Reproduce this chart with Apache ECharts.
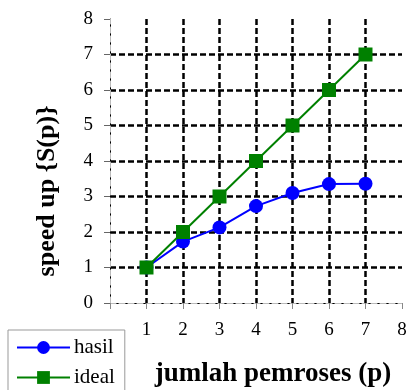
<!DOCTYPE html>
<html>
<head>
<meta charset="utf-8">
<script src="https://cdn.jsdelivr.net/npm/echarts@6/dist/echarts.min.js"></script>
<style>
  html, body { margin: 0; padding: 0; background: #fff; }
  #chart { width: 408px; height: 390px; }
</style>
</head>
<body>
<div id="chart"></div>
<script>
var procs = [1, 2, 3, 4, 5, 6, 7];
var hasil = [1, 1.73, 2.13, 2.73, 3.1, 3.35, 3.36];
var ideal = [1, 2, 3, 4, 5, 6, 7];

var font = 'Liberation Serif';

function pairs(ys) {
    var out = [];
    for (var i = 0; i < procs.length; i++) {
        out.push([procs[i], ys[i]]);
    }
    return out;
}

var gridDash = {
    show: true,
    showMinLine: false,
    showMaxLine: false,
    lineStyle: { color: '#000', width: 2.5, type: [6, 3] }
};

var option = {
    animation: false,
    backgroundColor: '#fff',
    grid: { left: 110, right: 6, top: 19, bottom: 87, outerBoundsMode: 'none', containLabel: false },
    legend: {
        orient: 'vertical',
        left: 8,
        top: 330,
        height: 120,
        padding: [7, 10, 20, 8],
        borderColor: '#999',
        borderWidth: 1,
        itemWidth: 53,
        itemHeight: 16,
        itemGap: 9,
        textStyle: { fontFamily: font, fontSize: 21, color: '#000', padding: [0, 0, 0, -1] },
        data: ['hasil', 'ideal']
    },
    xAxis: [{
        type: 'value',
        min: 0,
        max: 8,
        interval: 1,
        name: 'jumlah pemroses (p)',
        nameLocation: 'middle',
        nameGap: 58,
        nameTextStyle: { fontFamily: font, fontSize: 27, fontWeight: 'bold', color: '#000', padding: [0, 0, 0, 34] },
        axisLine: { lineStyle: { color: '#000', width: 1 } },
        axisTick: { show: true, length: 6, lineStyle: { color: '#888' } },
        axisLabel: {
            fontFamily: font, fontSize: 19, color: '#000', margin: 18,
            formatter: function (v) { return v === 0 ? '' : v; }
        },
        splitLine: gridDash
    }, {
        type: 'value',
        position: 'top',
        min: 0,
        max: 8,
        axisLine: { show: true, lineStyle: { color: '#bbb', width: 1, type: [6, 3] } },
        axisTick: { show: false },
        axisLabel: { show: false },
        splitLine: { show: false }
    }],
    yAxis: [{
        type: 'value',
        min: 0,
        max: 8,
        interval: 1,
        name: 'speed up {S(p)}',
        nameLocation: 'middle',
        nameGap: 50,
        nameTextStyle: { fontFamily: font, fontSize: 26, fontWeight: 'bold', color: '#000', padding: [0, 60, 0, 0] },
        axisLine: { show: true, lineStyle: { color: '#000', width: 1 } },
        axisTick: { show: true, length: 6, lineStyle: { color: '#666' } },
        axisLabel: { fontFamily: font, fontSize: 19, color: '#000', margin: 17 },
        splitLine: gridDash
    }, {
        type: 'value',
        position: 'right',
        min: 0,
        max: 8,
        axisLine: { show: true, lineStyle: { color: '#bbb', width: 1, type: [6, 3] } },
        axisTick: { show: false },
        axisLabel: { show: false },
        splitLine: { show: false }
    }],
    series: [{
        name: 'ideal',
        type: 'line',
        data: pairs(ideal),
        symbol: 'rect',
        symbolSize: 14,
        lineStyle: { color: '#008000', width: 2 },
        itemStyle: { color: '#008000' },
        z: 3
    }, {
        name: 'hasil',
        type: 'line',
        data: pairs(hasil),
        symbol: 'circle',
        symbolSize: 14,
        lineStyle: { color: '#0000ff', width: 2 },
        itemStyle: { color: '#0000ff' },
        z: 2
    }]
};

echarts.init(document.getElementById('chart')).setOption(option);
</script>
</body>
</html>
